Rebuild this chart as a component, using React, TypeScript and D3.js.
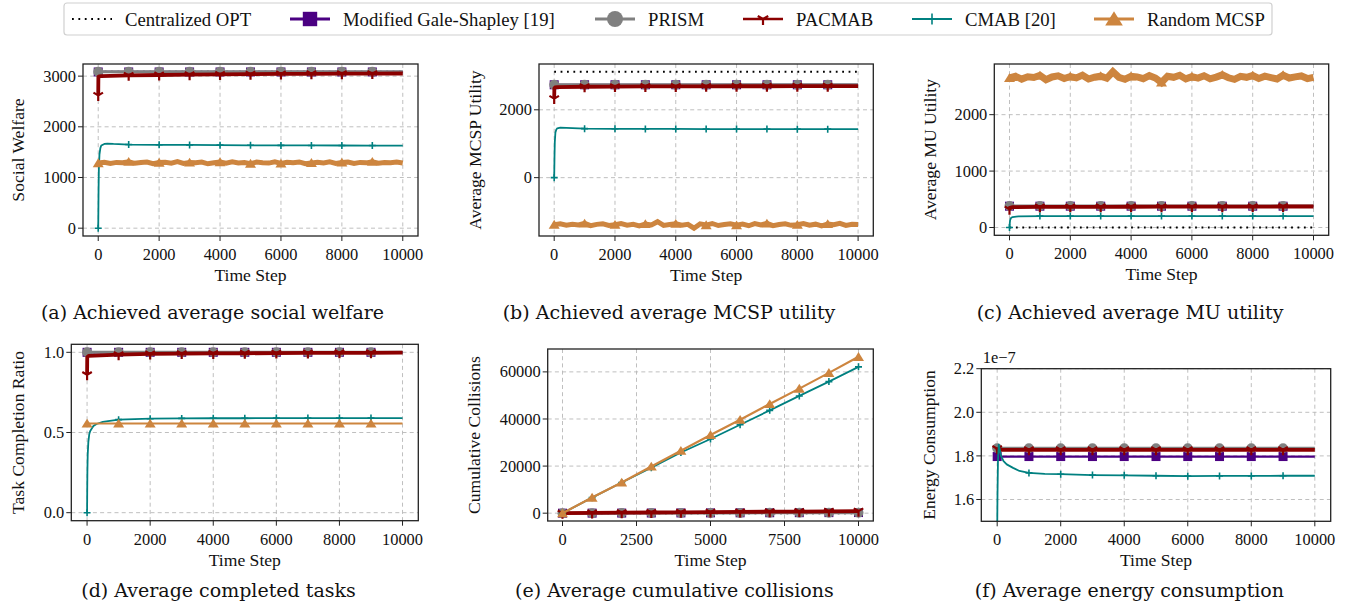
import React from 'react';
import * as d3 from 'd3';

type Pt = [number, number];

// ---------------- shared axis data ----------------
const timeTicks = [0, 2000, 4000, 6000, 8000, 10000];
const collisionTimeTicks = [0, 2500, 5000, 7500, 10000];
const kSteps = [0, 1000, 2000, 3000, 4000, 5000, 6000, 7000, 8000, 9000, 10000];
const noiseSteps = [
  0, 200, 400, 600, 800, 1000, 1200, 1400, 1600, 1800, 2000, 2200, 2400, 2600, 2800, 3000, 3200, 3400,
  3600, 3800, 4000, 4200, 4400, 4600, 4800, 5000, 5200, 5400, 5600, 5800, 6000, 6200, 6400, 6600, 6800,
  7000, 7200, 7400, 7600, 7800, 8000, 8200, 8400, 8600, 8800, 9000, 9200, 9400, 9600, 9800, 10000,
];

const methodKeys = ['opt', 'gs', 'prism', 'pacmab', 'cmab', 'random'];
const methodNames = [
  'Centralized OPT',
  'Modified Gale-Shapley [19]',
  'PRISM',
  'PACMAB',
  'CMAB [20]',
  'Random MCSP',
];

// ---------------- (a) social welfare ----------------
const welfareTicks = [0, 1000, 2000, 3000];
const welfareOpt = [3085, 3085, 3085, 3085, 3085, 3085, 3085, 3085, 3085, 3085, 3085];
const welfareGs = [3082, 3082, 3082, 3082, 3082, 3082, 3082, 3082, 3082, 3082, 3082];
const welfarePrism = [3085, 3085, 3085, 3085, 3085, 3085, 3085, 3085, 3085, 3085, 3085];
const welfarePacmab: Pt[] = [
  [0, 2620], [5, 2985], [30, 2995], [100, 3000], [1000, 3015], [2000, 3022], [3000, 3029], [4000, 3034],
  [5000, 3039], [6000, 3043], [7000, 3046], [8000, 3048], [9000, 3050], [10000, 3052],
];
const welfareCmab: Pt[] = [
  [0, 0], [10, 700], [20, 1150], [40, 1450], [70, 1580], [100, 1630], [200, 1662], [300, 1670], [500, 1662],
  [1000, 1650], [2000, 1645], [3000, 1642], [4000, 1638], [5000, 1635], [6000, 1633], [7000, 1632],
  [8000, 1631], [9000, 1630], [10000, 1630],
];
const welfareRandom = [
  1285, 1302, 1276, 1298, 1292, 1310, 1280, 1295, 1306, 1272, 1294, 1300, 1283, 1312, 1278, 1297, 1289,
  1305, 1270, 1291, 1303, 1281, 1309, 1287, 1296, 1274, 1304, 1290, 1284, 1311, 1277, 1299, 1293, 1307,
  1271, 1288, 1301, 1286, 1308, 1279, 1295, 1303, 1275, 1298, 1289, 1310, 1282, 1297, 1291, 1304, 1286,
];

// ---------------- (b) MCSP utility ----------------
const mcspTicks = [0, 2000];
const mcspOpt = [3120, 3120, 3120, 3120, 3120, 3120, 3120, 3120, 3120, 3120, 3120];
const mcspGs = [2738, 2738, 2738, 2738, 2738, 2738, 2738, 2738, 2738, 2738, 2738];
const mcspPrism = [2740, 2740, 2740, 2740, 2740, 2740, 2740, 2740, 2740, 2740, 2740];
const mcspPacmab: Pt[] = [
  [0, 2330], [5, 2630], [30, 2660], [100, 2670], [1000, 2680], [2000, 2684], [3000, 2688], [4000, 2690],
  [5000, 2692], [6000, 2694], [7000, 2695], [8000, 2696], [9000, 2697], [10000, 2698],
];
const mcspCmab: Pt[] = [
  [0, 0], [10, 600], [20, 1050], [40, 1330], [70, 1420], [100, 1450], [200, 1472], [400, 1466],
  [1000, 1445], [2000, 1440], [3000, 1437], [4000, 1435], [5000, 1433], [6000, 1432], [7000, 1431],
  [8000, 1430], [9000, 1430], [10000, 1430],
];
const mcspRandom = [
  -1385, -1360, -1405, -1372, -1395, -1350, -1415, -1378, -1362, -1408, -1388, -1355, -1400, -1375, -1420,
  -1366, -1392, -1300, -1410, -1382, -1358, -1402, -1376, -1490, -1364, -1398, -1352, -1412, -1384, -1360,
  -1404, -1370, -1418, -1356, -1394, -1350, -1414, -1380, -1362, -1406, -1388, -1354, -1402, -1372, -1425,
  -1366, -1390, -1348, -1410, -1378, -1385,
];

// ---------------- (c) MU utility ----------------
const muTicks = [0, 1000, 2000];
const muOpt = [0, 0, 0, 0, 0, 0, 0, 0, 0, 0, 0];
const muGs = [378, 378, 378, 378, 378, 378, 378, 378, 378, 378, 378];
const muPrism = [382, 382, 382, 382, 382, 382, 382, 382, 382, 382, 382];
const muPacmab: Pt[] = [
  [0, 325], [5, 350], [100, 360], [1000, 365], [2000, 366], [3000, 367], [4000, 368], [5000, 369],
  [6000, 370], [7000, 370], [8000, 371], [9000, 372], [10000, 372],
];
const muCmab: Pt[] = [
  [0, 0], [10, 80], [20, 130], [50, 170], [100, 185], [300, 198], [1000, 202], [2000, 202], [3000, 203],
  [4000, 203], [5000, 203], [6000, 203], [7000, 203], [8000, 203], [9000, 203], [10000, 203],
];
const muRandom = [
  2650, 2680, 2630, 2672, 2658, 2695, 2620, 2668, 2688, 2640, 2676, 2652, 2700, 2632, 2664, 2684, 2645,
  2760, 2660, 2628, 2678, 2670, 2638, 2692, 2650, 2570, 2682, 2662, 2698, 2634, 2674, 2648, 2690, 2636,
  2666, 2705, 2654, 2626, 2680, 2662, 2694, 2642, 2682, 2658, 2632, 2700, 2650, 2670, 2686, 2640, 2662,
];

// ---------------- (d) task completion ----------------
const taskTicks = [0, 0.5, 1.0];
const taskOpt = [1, 1, 1, 1, 1, 1, 1, 1, 1, 1, 1];
const taskGs = [1, 1, 1, 1, 1, 1, 1, 1, 1, 1, 1];
const taskPrism = [1, 1, 1, 1, 1, 1, 1, 1, 1, 1, 1];
const taskPacmab: Pt[] = [
  [0, 0.86], [5, 0.97], [50, 0.978], [1000, 0.985], [2000, 0.99], [3000, 0.992], [4000, 0.993],
  [5000, 0.994], [6000, 0.995], [7000, 0.996], [8000, 0.997], [9000, 0.997], [10000, 0.998],
];
const taskCmab: Pt[] = [
  [0, 0], [5, 0.15], [10, 0.25], [20, 0.36], [40, 0.44], [70, 0.49], [100, 0.51], [200, 0.54], [300, 0.553],
  [500, 0.566], [1000, 0.58], [2000, 0.586], [3000, 0.588], [4000, 0.589], [5000, 0.589], [6000, 0.59],
  [7000, 0.59], [8000, 0.59], [9000, 0.59], [10000, 0.59],
];
const taskRandom = [0.556, 0.556, 0.556, 0.556, 0.556, 0.556, 0.556, 0.556, 0.556, 0.556, 0.556];

// ---------------- (e) cumulative collisions ----------------
const collisionTicks = [0, 20000, 40000, 60000];
const collisionOpt = [0, 0, 0, 0, 0, 0, 0, 0, 0, 0, 0];
const collisionGs = [0, 25, 55, 80, 110, 135, 160, 190, 215, 240, 270];
const collisionPrism = [0, 20, 45, 65, 90, 110, 130, 155, 175, 200, 220];
const collisionPacmab = [0, 110, 200, 290, 370, 460, 540, 620, 700, 790, 870];
const collisionCmab = [0, 6600, 13000, 19280, 25790, 31490, 37570, 43660, 49790, 55870, 62130];
const collisionRandom = [0, 6640, 13020, 19830, 26500, 33190, 39700, 46380, 52890, 59570, 66400];

// ---------------- (f) energy consumption ----------------
const energyTicks = [1.6e-7, 1.8e-7, 2.0e-7, 2.2e-7];
const energyDomain = [1.5e-7, 2.2e-7];
const energyGs = [1.797e-7, 1.797e-7, 1.797e-7, 1.797e-7, 1.797e-7, 1.797e-7, 1.797e-7, 1.797e-7, 1.797e-7, 1.797e-7, 1.797e-7];
const energyPrism = [1.835e-7, 1.835e-7, 1.835e-7, 1.835e-7, 1.835e-7, 1.835e-7, 1.835e-7, 1.835e-7, 1.835e-7, 1.835e-7, 1.835e-7];
const energyPacmab: Pt[] = [
  [0, 1.833e-7], [10, 1.828e-7], [1000, 1.828e-7], [2000, 1.828e-7], [3000, 1.828e-7], [4000, 1.828e-7],
  [5000, 1.828e-7], [6000, 1.828e-7], [7000, 1.828e-7], [8000, 1.828e-7], [9000, 1.828e-7], [10000, 1.828e-7],
];
const energyCmab: Pt[] = [
  [0, 1.45e-7], [10, 1.62e-7], [25, 1.78e-7], [50, 1.852e-7], [80, 1.83e-7], [120, 1.8e-7], [200, 1.776e-7],
  [300, 1.761e-7], [500, 1.745e-7], [700, 1.731e-7], [1000, 1.722e-7], [1500, 1.718e-7], [2000, 1.716e-7],
  [3000, 1.712e-7], [4000, 1.711e-7], [5000, 1.709e-7], [6000, 1.707e-7], [7000, 1.708e-7], [8000, 1.708e-7],
  [9000, 1.709e-7], [10000, 1.709e-7],
];

// ---------------- helpers ----------------
const atK = (vals: number[]): Pt[] => vals.map((v, i) => [kSteps[i], v] as Pt);
const onNoiseGrid = (vals: number[]): Pt[] => vals.map((v, i) => [noiseSteps[i], v] as Pt);

type MarkerKind = 'none' | 'circle' | 'square' | 'triUp' | 'triDown' | 'plus';
interface Style {
  color: string;
  width: number;
  legendWidth: number;
  dash?: string;
  marker: MarkerKind;
}
const STYLES: Record<string, Style> = {
  opt: { color: '#000000', width: 2, legendWidth: 2, dash: '1.8,4.6', marker: 'none' },
  gs: { color: '#4B0082', width: 2.2, legendWidth: 2.8, marker: 'square' },
  prism: { color: '#808080', width: 3, legendWidth: 3, marker: 'circle' },
  pacmab: { color: '#8B0000', width: 3.8, legendWidth: 2.5, marker: 'triDown' },
  cmab: { color: '#008080', width: 1.8, legendWidth: 2.2, marker: 'plus' },
  random: { color: '#CD853F', width: 2.2, legendWidth: 3, marker: 'triUp' },
};

const FONT = "'Liberation Serif', 'Times New Roman', Times, serif";
const CAP_FONT = "'DejaVu Serif', serif";

function Marker({ kind, x, y, color, scale = 1 }: { kind: MarkerKind; x: number; y: number; color: string; scale?: number }) {
  if (kind === 'circle') return <circle cx={x} cy={y} r={5 * scale} fill={color} />;
  if (kind === 'square') {
    const s = 4.5 * scale;
    return <rect x={x - s} y={y - s} width={2 * s} height={2 * s} fill={color} />;
  }
  if (kind === 'triUp') {
    const w = 5.5 * scale;
    const h = 4.8 * scale;
    return <path d={`M${x},${y - h}L${x + w},${y + h * 0.85}L${x - w},${y + h * 0.85}Z`} fill={color} />;
  }
  if (kind === 'triDown') {
    const s = 5.5 * scale;
    return (
      <path
        d={`M${x},${y}L${x},${y + s}M${x},${y}L${x - 0.866 * s},${y - 0.5 * s}M${x},${y}L${x + 0.866 * s},${y - 0.5 * s}`}
        stroke={color}
        strokeWidth={2.2}
        fill="none"
      />
    );
  }
  if (kind === 'plus') {
    const s = 3.5 * scale;
    return (
      <path d={`M${x - s},${y}L${x + s},${y}M${x},${y - s}L${x},${y + s}`} stroke={color} strokeWidth={1.6} fill="none" />
    );
  }
  return null;
}

interface PanelSpec {
  id: string;
  box: { x0: number; x1: number; y0: number; y1: number };
  yLabel: string;
  yLabelX: number;
  yTicks: number[];
  yFmt: (v: number) => string;
  xTicks: number[];
  caption: string;
  capX: number;
  capY: number;
  markMax: number;
  fixedDomain?: number[];
  offsetText?: string;
  series: Record<string, Pt[]>;
  noisyWidth?: number;
}

const intFmt = (v: number) => String(Math.round(v));

const panels: PanelSpec[] = [
  {
    id: 'a',
    box: { x0: 83, x1: 418, y0: 64, y1: 236 },
    yLabel: 'Social Welfare',
    yLabelX: 18.5,
    yTicks: welfareTicks,
    yFmt: intFmt,
    xTicks: timeTicks,
    caption: '(a) Achieved average social welfare',
    capX: 212.5,
    capY: 319,
    markMax: 9000,
    noisyWidth: 5,
    series: {
      opt: atK(welfareOpt),
      gs: atK(welfareGs),
      prism: atK(welfarePrism),
      pacmab: welfarePacmab,
      cmab: welfareCmab,
      random: onNoiseGrid(welfareRandom),
    },
  },
  {
    id: 'b',
    box: { x0: 539, x1: 873.3, y0: 64, y1: 236 },
    yLabel: 'Average MCSP Utility',
    yLabelX: 475.5,
    yTicks: mcspTicks,
    yFmt: intFmt,
    xTicks: timeTicks,
    caption: '(b) Achieved average MCSP utility',
    capX: 669,
    capY: 319,
    markMax: 9000,
    noisyWidth: 5,
    series: {
      opt: atK(mcspOpt),
      gs: atK(mcspGs),
      prism: atK(mcspPrism),
      pacmab: mcspPacmab,
      cmab: mcspCmab,
      random: onNoiseGrid(mcspRandom),
    },
  },
  {
    id: 'c',
    box: { x0: 994.3, x1: 1328.7, y0: 64, y1: 235.3 },
    yLabel: 'Average MU Utility',
    yLabelX: 930.5,
    yTicks: muTicks,
    yFmt: intFmt,
    xTicks: timeTicks,
    caption: '(c) Achieved average MU utility',
    capX: 1130,
    capY: 319,
    markMax: 9000,
    noisyWidth: 7,
    series: {
      opt: atK(muOpt),
      gs: atK(muGs),
      prism: atK(muPrism),
      pacmab: muPacmab,
      cmab: muCmab,
      random: onNoiseGrid(muRandom),
    },
  },
  {
    id: 'd',
    box: { x0: 71.3, x1: 418.3, y0: 344.3, y1: 520.7 },
    yLabel: 'Task Completion Ratio',
    yLabelX: 18.5,
    yTicks: taskTicks,
    yFmt: (v) => v.toFixed(1),
    xTicks: timeTicks,
    caption: '(d) Average completed tasks',
    capX: 218.5,
    capY: 597,
    markMax: 9000,
    series: {
      opt: atK(taskOpt),
      gs: atK(taskGs),
      prism: atK(taskPrism),
      pacmab: taskPacmab,
      cmab: taskCmab,
      random: atK(taskRandom),
    },
  },
  {
    id: 'e',
    box: { x0: 547.7, x1: 873.3, y0: 349, y1: 521 },
    yLabel: 'Cumulative Collisions',
    yLabelX: 474.7,
    yTicks: collisionTicks,
    yFmt: intFmt,
    xTicks: collisionTimeTicks,
    caption: '(e) Average cumulative collisions',
    capX: 674.4,
    capY: 597,
    markMax: 10000,
    series: {
      opt: atK(collisionOpt),
      gs: atK(collisionGs),
      prism: atK(collisionPrism),
      pacmab: atK(collisionPacmab),
      cmab: atK(collisionCmab),
      random: atK(collisionRandom),
    },
  },
  {
    id: 'f',
    box: { x0: 981.3, x1: 1330.7, y0: 368.7, y1: 521.3 },
    yLabel: 'Energy Consumption',
    yLabelX: 930,
    yTicks: energyTicks,
    yFmt: (v) => (v / 1e-7).toFixed(1),
    xTicks: timeTicks,
    caption: '(f) Average energy consumption',
    capX: 1129.4,
    capY: 597,
    markMax: 9000,
    fixedDomain: energyDomain,
    offsetText: '1e\u22127',
    series: {
      gs: atK(energyGs),
      prism: atK(energyPrism),
      pacmab: energyPacmab,
      cmab: energyCmab,
    },
  },
];

const TICK_FS = 16.4;
const LABEL_FS = 17.6;

function Panel({ p }: { p: PanelSpec }) {
  const { x0, x1, y0, y1 } = p.box;
  const x = d3.scaleLinear().domain([-500, 10500]).range([x0, x1]);
  let yDomain: number[];
  if (p.fixedDomain) {
    yDomain = p.fixedDomain;
  } else {
    const all = Object.values(p.series).flat().map((d) => d[1]);
    const [mn, mx] = d3.extent(all) as [number, number];
    const pad = (mx - mn) * 0.05;
    yDomain = [mn - pad, mx + pad];
  }
  const y = d3.scaleLinear().domain(yDomain).range([y1, y0]);
  const line = d3
    .line<Pt>()
    .x((d) => x(d[0]))
    .y((d) => y(d[1]));
  const clipId = `clip-${p.id}`;
  const gridStyle = { stroke: '#b8b8b8', strokeWidth: 0.9, strokeDasharray: '4,3.2' };
  return (
    <g>
      <defs>
        <clipPath id={clipId}>
          <rect x={x0} y={y0} width={x1 - x0} height={y1 - y0} />
        </clipPath>
      </defs>
      <g>
        {p.xTicks.map((t) => (
          <line key={`gx${t}`} x1={x(t)} x2={x(t)} y1={y0} y2={y1} style={gridStyle} />
        ))}
        {p.yTicks.map((t) => (
          <line key={`gy${t}`} x1={x0} x2={x1} y1={y(t)} y2={y(t)} style={gridStyle} />
        ))}
      </g>
      <g clipPath={`url(#${clipId})`}>
        {methodKeys
          .filter((k) => p.series[k])
          .map((k) => {
            const st = STYLES[k];
            const data = p.series[k];
            const noisy = k === 'random' && p.noisyWidth;
            const marks = data.filter((d) => d[0] % 1000 === 0 && d[0] <= p.markMax);
            return (
              <g key={k}>
                <path
                  d={line(data) || ''}
                  fill="none"
                  stroke={st.color}
                  strokeWidth={noisy ? (p.noisyWidth as number) : st.width}
                  strokeDasharray={st.dash}
                  strokeLinejoin={noisy ? 'miter' : 'round'}
                  strokeMiterlimit={2}
                />
                {st.marker !== 'none' &&
                  marks.map((d, i) => (
                    <Marker key={i} kind={st.marker} x={x(d[0])} y={y(d[1])} color={st.color} />
                  ))}
              </g>
            );
          })}
      </g>
      <rect x={x0} y={y0} width={x1 - x0} height={y1 - y0} fill="none" stroke="#222" strokeWidth={1.3} />
      {p.xTicks.map((t) => (
        <g key={`xt${t}`}>
          <line x1={x(t)} x2={x(t)} y1={y1} y2={y1 + 5} stroke="#222" strokeWidth={1} />
          <text x={x(t)} y={y1 + 24} textAnchor="middle" fontSize={TICK_FS} fontFamily={FONT} fill="#111">
            {intFmt(t)}
          </text>
        </g>
      ))}
      {p.yTicks.map((t) => (
        <g key={`yt${t}`}>
          <line x1={x0 - 5} x2={x0} y1={y(t)} y2={y(t)} stroke="#222" strokeWidth={1} />
          <text x={x0 - 7} y={y(t) + 5.6} textAnchor="end" fontSize={TICK_FS} fontFamily={FONT} fill="#111">
            {p.yFmt(t)}
          </text>
        </g>
      ))}
      {p.offsetText && (
        <text x={x0 + 1.5} y={y0 - 5.5} fontSize={TICK_FS} fontFamily={FONT} fill="#111">
          {p.offsetText}
        </text>
      )}
      <text x={(x0 + x1) / 2} y={y1 + 45} textAnchor="middle" fontSize={LABEL_FS} fontFamily={FONT} fill="#111">
        Time Step
      </text>
      <text
        transform={`translate(${p.yLabelX + 5},${(y0 + y1) / 2}) rotate(-90)`}
        textAnchor="middle"
        fontSize={LABEL_FS}
        fontFamily={FONT}
        fill="#111"
      >
        {p.yLabel}
      </text>
      <text x={p.capX} y={p.capY} textAnchor="middle" fontSize={19} fontFamily={CAP_FONT} fill="#111">
        {p.caption}
      </text>
    </g>
  );
}

const legendHandleX = [72, 290, 595, 743, 912, 1094];

function Legend() {
  const cy = 19;
  const hl = 40;
  return (
    <g>
      <rect x={64} y={3} width={1208} height={32} rx={3} fill="#fff" stroke="#d0d0d0" strokeWidth={1.2} />
      {methodKeys.map((k, i) => {
        const st = STYLES[k];
        const hx = legendHandleX[i];
        return (
          <g key={k}>
            <line
              x1={hx}
              x2={hx + hl}
              y1={cy}
              y2={cy}
              stroke={st.color}
              strokeWidth={st.legendWidth}
              strokeDasharray={st.dash}
            />
            {st.marker !== 'none' && (
              <Marker kind={st.marker} x={hx + hl / 2} y={cy} color={st.color} scale={st.marker === 'triDown' ? 1.1 : 1.6} />
            )}
            <text x={hx + 53} y={25.5} fontSize={18.7} fontFamily={FONT} fill="#111">
              {methodNames[i]}
            </text>
          </g>
        );
      })}
    </g>
  );
}

export default function App() {
  return (
    <svg
      width={1347}
      height={610}
      viewBox="0 0 1347 610"
      style={{ position: 'absolute', left: 0, top: 0, background: '#fff' }}
    >
      <rect x={0} y={0} width={1347} height={610} fill="#fff" />
      {panels.map((p) => (
        <Panel key={p.id} p={p} />
      ))}
      <Legend />
    </svg>
  );
}
